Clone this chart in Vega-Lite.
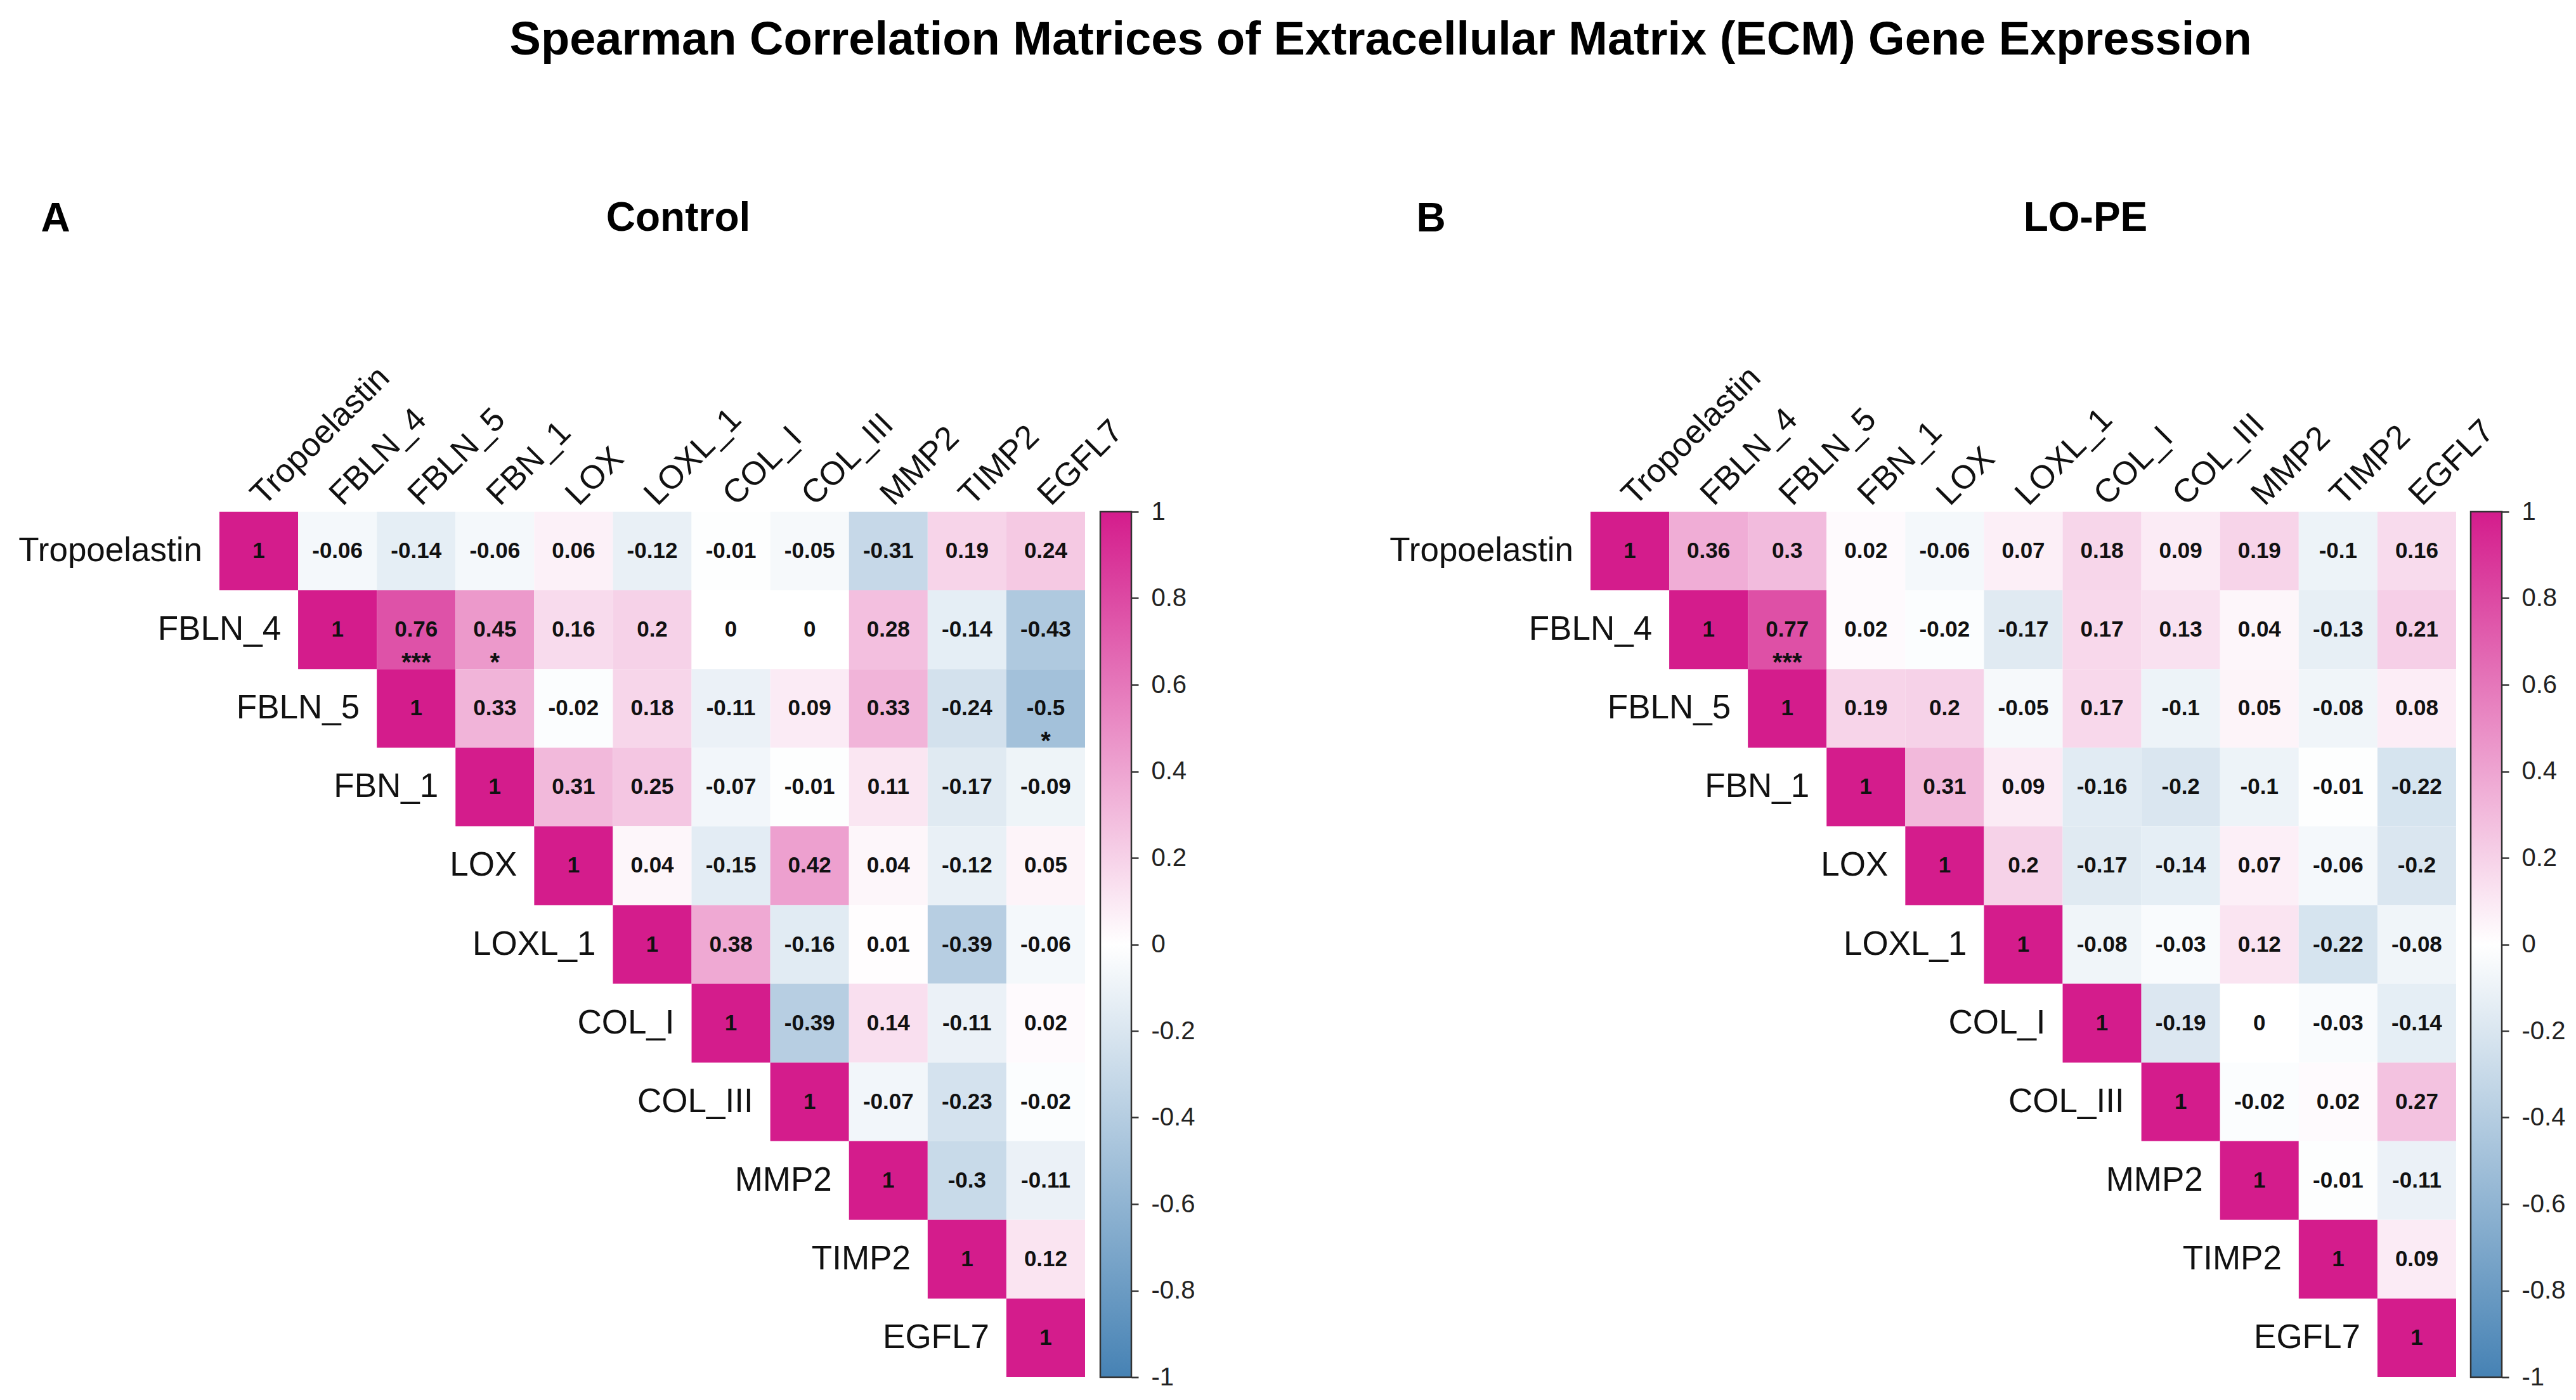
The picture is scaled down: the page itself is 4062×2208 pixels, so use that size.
{
  "$schema": "https://vega.github.io/schema/vega-lite/v6.json",
  "background": "white",
  "padding": {"left": 29, "top": 27, "right": 5, "bottom": 5},
  "title": {
    "text": "Spearman Correlation Matrices of Extracellular Matrix (ECM) Gene Expression",
    "fontSize": 74, "fontWeight": "bold", "font": "Liberation Sans", "color": "#000",
    "anchor": "middle", "offset": 210, "dx": 140
  },
  "datasets": {
    "control": [
      {"row": "Tropoelastin", "col": "Tropoelastin", "r": 1},
      {"row": "Tropoelastin", "col": "FBLN_4", "r": -0.06},
      {"row": "Tropoelastin", "col": "FBLN_5", "r": -0.14},
      {"row": "Tropoelastin", "col": "FBN_1", "r": -0.06},
      {"row": "Tropoelastin", "col": "LOX", "r": 0.06},
      {"row": "Tropoelastin", "col": "LOXL_1", "r": -0.12},
      {"row": "Tropoelastin", "col": "COL_I", "r": -0.01},
      {"row": "Tropoelastin", "col": "COL_III", "r": -0.05},
      {"row": "Tropoelastin", "col": "MMP2", "r": -0.31},
      {"row": "Tropoelastin", "col": "TIMP2", "r": 0.19},
      {"row": "Tropoelastin", "col": "EGFL7", "r": 0.24},
      {"row": "FBLN_4", "col": "FBLN_4", "r": 1},
      {"row": "FBLN_4", "col": "FBLN_5", "r": 0.76, "sig": "***"},
      {"row": "FBLN_4", "col": "FBN_1", "r": 0.45, "sig": "*"},
      {"row": "FBLN_4", "col": "LOX", "r": 0.16},
      {"row": "FBLN_4", "col": "LOXL_1", "r": 0.2},
      {"row": "FBLN_4", "col": "COL_I", "r": 0},
      {"row": "FBLN_4", "col": "COL_III", "r": 0},
      {"row": "FBLN_4", "col": "MMP2", "r": 0.28},
      {"row": "FBLN_4", "col": "TIMP2", "r": -0.14},
      {"row": "FBLN_4", "col": "EGFL7", "r": -0.43},
      {"row": "FBLN_5", "col": "FBLN_5", "r": 1},
      {"row": "FBLN_5", "col": "FBN_1", "r": 0.33},
      {"row": "FBLN_5", "col": "LOX", "r": -0.02},
      {"row": "FBLN_5", "col": "LOXL_1", "r": 0.18},
      {"row": "FBLN_5", "col": "COL_I", "r": -0.11},
      {"row": "FBLN_5", "col": "COL_III", "r": 0.09},
      {"row": "FBLN_5", "col": "MMP2", "r": 0.33},
      {"row": "FBLN_5", "col": "TIMP2", "r": -0.24},
      {"row": "FBLN_5", "col": "EGFL7", "r": -0.5, "sig": "*"},
      {"row": "FBN_1", "col": "FBN_1", "r": 1},
      {"row": "FBN_1", "col": "LOX", "r": 0.31},
      {"row": "FBN_1", "col": "LOXL_1", "r": 0.25},
      {"row": "FBN_1", "col": "COL_I", "r": -0.07},
      {"row": "FBN_1", "col": "COL_III", "r": -0.01},
      {"row": "FBN_1", "col": "MMP2", "r": 0.11},
      {"row": "FBN_1", "col": "TIMP2", "r": -0.17},
      {"row": "FBN_1", "col": "EGFL7", "r": -0.09},
      {"row": "LOX", "col": "LOX", "r": 1},
      {"row": "LOX", "col": "LOXL_1", "r": 0.04},
      {"row": "LOX", "col": "COL_I", "r": -0.15},
      {"row": "LOX", "col": "COL_III", "r": 0.42},
      {"row": "LOX", "col": "MMP2", "r": 0.04},
      {"row": "LOX", "col": "TIMP2", "r": -0.12},
      {"row": "LOX", "col": "EGFL7", "r": 0.05},
      {"row": "LOXL_1", "col": "LOXL_1", "r": 1},
      {"row": "LOXL_1", "col": "COL_I", "r": 0.38},
      {"row": "LOXL_1", "col": "COL_III", "r": -0.16},
      {"row": "LOXL_1", "col": "MMP2", "r": 0.01},
      {"row": "LOXL_1", "col": "TIMP2", "r": -0.39},
      {"row": "LOXL_1", "col": "EGFL7", "r": -0.06},
      {"row": "COL_I", "col": "COL_I", "r": 1},
      {"row": "COL_I", "col": "COL_III", "r": -0.39},
      {"row": "COL_I", "col": "MMP2", "r": 0.14},
      {"row": "COL_I", "col": "TIMP2", "r": -0.11},
      {"row": "COL_I", "col": "EGFL7", "r": 0.02},
      {"row": "COL_III", "col": "COL_III", "r": 1},
      {"row": "COL_III", "col": "MMP2", "r": -0.07},
      {"row": "COL_III", "col": "TIMP2", "r": -0.23},
      {"row": "COL_III", "col": "EGFL7", "r": -0.02},
      {"row": "MMP2", "col": "MMP2", "r": 1},
      {"row": "MMP2", "col": "TIMP2", "r": -0.3},
      {"row": "MMP2", "col": "EGFL7", "r": -0.11},
      {"row": "TIMP2", "col": "TIMP2", "r": 1},
      {"row": "TIMP2", "col": "EGFL7", "r": 0.12},
      {"row": "EGFL7", "col": "EGFL7", "r": 1}
    ],
    "lope": [
      {"row": "Tropoelastin", "col": "Tropoelastin", "r": 1},
      {"row": "Tropoelastin", "col": "FBLN_4", "r": 0.36},
      {"row": "Tropoelastin", "col": "FBLN_5", "r": 0.3},
      {"row": "Tropoelastin", "col": "FBN_1", "r": 0.02},
      {"row": "Tropoelastin", "col": "LOX", "r": -0.06},
      {"row": "Tropoelastin", "col": "LOXL_1", "r": 0.07},
      {"row": "Tropoelastin", "col": "COL_I", "r": 0.18},
      {"row": "Tropoelastin", "col": "COL_III", "r": 0.09},
      {"row": "Tropoelastin", "col": "MMP2", "r": 0.19},
      {"row": "Tropoelastin", "col": "TIMP2", "r": -0.1},
      {"row": "Tropoelastin", "col": "EGFL7", "r": 0.16},
      {"row": "FBLN_4", "col": "FBLN_4", "r": 1},
      {"row": "FBLN_4", "col": "FBLN_5", "r": 0.77, "sig": "***"},
      {"row": "FBLN_4", "col": "FBN_1", "r": 0.02},
      {"row": "FBLN_4", "col": "LOX", "r": -0.02},
      {"row": "FBLN_4", "col": "LOXL_1", "r": -0.17},
      {"row": "FBLN_4", "col": "COL_I", "r": 0.17},
      {"row": "FBLN_4", "col": "COL_III", "r": 0.13},
      {"row": "FBLN_4", "col": "MMP2", "r": 0.04},
      {"row": "FBLN_4", "col": "TIMP2", "r": -0.13},
      {"row": "FBLN_4", "col": "EGFL7", "r": 0.21},
      {"row": "FBLN_5", "col": "FBLN_5", "r": 1},
      {"row": "FBLN_5", "col": "FBN_1", "r": 0.19},
      {"row": "FBLN_5", "col": "LOX", "r": 0.2},
      {"row": "FBLN_5", "col": "LOXL_1", "r": -0.05},
      {"row": "FBLN_5", "col": "COL_I", "r": 0.17},
      {"row": "FBLN_5", "col": "COL_III", "r": -0.1},
      {"row": "FBLN_5", "col": "MMP2", "r": 0.05},
      {"row": "FBLN_5", "col": "TIMP2", "r": -0.08},
      {"row": "FBLN_5", "col": "EGFL7", "r": 0.08},
      {"row": "FBN_1", "col": "FBN_1", "r": 1},
      {"row": "FBN_1", "col": "LOX", "r": 0.31},
      {"row": "FBN_1", "col": "LOXL_1", "r": 0.09},
      {"row": "FBN_1", "col": "COL_I", "r": -0.16},
      {"row": "FBN_1", "col": "COL_III", "r": -0.2},
      {"row": "FBN_1", "col": "MMP2", "r": -0.1},
      {"row": "FBN_1", "col": "TIMP2", "r": -0.01},
      {"row": "FBN_1", "col": "EGFL7", "r": -0.22},
      {"row": "LOX", "col": "LOX", "r": 1},
      {"row": "LOX", "col": "LOXL_1", "r": 0.2},
      {"row": "LOX", "col": "COL_I", "r": -0.17},
      {"row": "LOX", "col": "COL_III", "r": -0.14},
      {"row": "LOX", "col": "MMP2", "r": 0.07},
      {"row": "LOX", "col": "TIMP2", "r": -0.06},
      {"row": "LOX", "col": "EGFL7", "r": -0.2},
      {"row": "LOXL_1", "col": "LOXL_1", "r": 1},
      {"row": "LOXL_1", "col": "COL_I", "r": -0.08},
      {"row": "LOXL_1", "col": "COL_III", "r": -0.03},
      {"row": "LOXL_1", "col": "MMP2", "r": 0.12},
      {"row": "LOXL_1", "col": "TIMP2", "r": -0.22},
      {"row": "LOXL_1", "col": "EGFL7", "r": -0.08},
      {"row": "COL_I", "col": "COL_I", "r": 1},
      {"row": "COL_I", "col": "COL_III", "r": -0.19},
      {"row": "COL_I", "col": "MMP2", "r": 0},
      {"row": "COL_I", "col": "TIMP2", "r": -0.03},
      {"row": "COL_I", "col": "EGFL7", "r": -0.14},
      {"row": "COL_III", "col": "COL_III", "r": 1},
      {"row": "COL_III", "col": "MMP2", "r": -0.02},
      {"row": "COL_III", "col": "TIMP2", "r": 0.02},
      {"row": "COL_III", "col": "EGFL7", "r": 0.27},
      {"row": "MMP2", "col": "MMP2", "r": 1},
      {"row": "MMP2", "col": "TIMP2", "r": -0.01},
      {"row": "MMP2", "col": "EGFL7", "r": -0.11},
      {"row": "TIMP2", "col": "TIMP2", "r": 1},
      {"row": "TIMP2", "col": "EGFL7", "r": 0.09},
      {"row": "EGFL7", "col": "EGFL7", "r": 1}
    ],
    "colorbar": [{"lo": -1, "hi": 1}]
  },
  "spacing": 307,
  "bounds": "full",
  "hconcat": [
    {
      "spacing": 24,
      "bounds": "flush",
      "hconcat": [
        {
          "width": 1365, "height": 1365,
          "data": {"name": "control"},
          "encoding": {
            "x": {
              "field": "col", "type": "nominal", "sort": null,
              "scale": {"domain": ["Tropoelastin", "FBLN_4", "FBLN_5", "FBN_1", "LOX", "LOXL_1", "COL_I", "COL_III", "MMP2", "TIMP2", "EGFL7"], "paddingInner": 0, "paddingOuter": 0},
              "axis": {
                "orient": "top", "domain": false, "ticks": false, "tickSize": 0,
                "labelAngle": -45, "labelAlign": "left", "labelBaseline": "alphabetic",
                "labelPadding": 8, "labelOffset": 8, "labelFontSize": 52, "labelColor": "#111",
                "labelLimit": 0, "labelOverlap": false, "labelBound": false, "labelFlush": false,
                "title": "A", "titleX": -259, "titleY": -443, "titleAngle": 0,
                "titleAlign": "center", "titleBaseline": "alphabetic",
                "titleFontSize": 64, "titleFontWeight": "bold", "titleColor": "#000"
              }
            },
            "y": {
              "field": "row", "type": "nominal", "sort": null,
              "scale": {"domain": ["Tropoelastin", "FBLN_4", "FBLN_5", "FBN_1", "LOX", "LOXL_1", "COL_I", "COL_III", "MMP2", "TIMP2", "EGFL7"], "paddingInner": 0, "paddingOuter": 0},
              "axis": {
                "orient": "left", "domain": false, "ticks": false, "labels": false,
                "title": "Control", "titleX": 723, "titleY": -444, "titleAngle": 0,
                "titleAlign": "center", "titleBaseline": "alphabetic",
                "titleFontSize": 64, "titleFontWeight": "bold", "titleColor": "#000"
              }
            }
          },
          "layer": [
            {
              "mark": {"type": "rect"},
              "encoding": {
                "color": {
                  "field": "r", "type": "quantitative",
                  "scale": {"domain": [-1, 0, 1], "range": ["#4682B4", "#FFFFFF", "#D41C8C"], "interpolate": "rgb"},
                  "legend": null
                }
              }
            },
            {
              "mark": {"type": "text", "fontSize": 35, "fontWeight": "bold", "color": "#111", "baseline": "middle"},
              "encoding": {"text": {"field": "r", "type": "nominal"}}
            },
            {
              "transform": [{"filter": "datum.sig"}],
              "mark": {"type": "text", "fontSize": 40, "fontWeight": "bold", "color": "#111", "baseline": "alphabetic", "dy": 65},
              "encoding": {"text": {"field": "sig", "type": "nominal"}}
            },
            {
              "transform": [{"filter": "datum.row === datum.col"}],
              "mark": {"type": "text", "fontSize": 53, "color": "#111", "align": "right", "baseline": "middle", "dx": -89},
              "encoding": {"text": {"field": "row", "type": "nominal"}}
            }
          ]
        },
        {
          "width": 49, "height": 1365,
          "data": {"name": "colorbar"},
          "mark": {
            "type": "rect", "stroke": "#333", "strokeWidth": 2.5,
            "fill": {"gradient": "linear", "x1": 0, "y1": 0, "x2": 0, "y2": 1,
              "stops": [{"offset": 0, "color": "#D41C8C"}, {"offset": 0.5, "color": "#FFFFFF"}, {"offset": 1, "color": "#4682B4"}]}
          },
          "encoding": {
            "y": {
              "field": "lo", "type": "quantitative",
              "scale": {"domain": [-1, 1], "nice": false, "zero": false},
              "axis": {
                "orient": "right", "values": [-1, -0.8, -0.6, -0.4, -0.2, 0, 0.2, 0.4, 0.6, 0.8, 1],
                "labelExpr": "'' + datum.value", "domain": false, "grid": false, "title": null,
                "tickSize": 11, "tickWidth": 2.5, "tickColor": "#333",
                "labelPadding": 20, "labelFontSize": 40, "labelColor": "#222",
                "labelAlign": "left", "labelBaseline": "middle",
                "labelFlush": false, "labelOverlap": false, "labelBound": false
              }
            },
            "y2": {"field": "hi"}
          }
        }
      ]
    },
    {
      "spacing": 23,
      "bounds": "flush",
      "hconcat": [
        {
          "width": 1365, "height": 1365,
          "data": {"name": "lope"},
          "encoding": {
            "x": {
              "field": "col", "type": "nominal", "sort": null,
              "scale": {"domain": ["Tropoelastin", "FBLN_4", "FBLN_5", "FBN_1", "LOX", "LOXL_1", "COL_I", "COL_III", "MMP2", "TIMP2", "EGFL7"], "paddingInner": 0, "paddingOuter": 0},
              "axis": {
                "orient": "top", "domain": false, "ticks": false, "tickSize": 0,
                "labelAngle": -45, "labelAlign": "left", "labelBaseline": "alphabetic",
                "labelPadding": 8, "labelOffset": 8, "labelFontSize": 52, "labelColor": "#111",
                "labelLimit": 0, "labelOverlap": false, "labelBound": false, "labelFlush": false,
                "title": "B", "titleX": -252, "titleY": -443, "titleAngle": 0,
                "titleAlign": "center", "titleBaseline": "alphabetic",
                "titleFontSize": 64, "titleFontWeight": "bold", "titleColor": "#000"
              }
            },
            "y": {
              "field": "row", "type": "nominal", "sort": null,
              "scale": {"domain": ["Tropoelastin", "FBLN_4", "FBLN_5", "FBN_1", "LOX", "LOXL_1", "COL_I", "COL_III", "MMP2", "TIMP2", "EGFL7"], "paddingInner": 0, "paddingOuter": 0},
              "axis": {
                "orient": "left", "domain": false, "ticks": false, "labels": false,
                "title": "LO-PE", "titleX": 780, "titleY": -444, "titleAngle": 0,
                "titleAlign": "center", "titleBaseline": "alphabetic",
                "titleFontSize": 64, "titleFontWeight": "bold", "titleColor": "#000"
              }
            }
          },
          "layer": [
            {
              "mark": {"type": "rect"},
              "encoding": {
                "color": {
                  "field": "r", "type": "quantitative",
                  "scale": {"domain": [-1, 0, 1], "range": ["#4682B4", "#FFFFFF", "#D41C8C"], "interpolate": "rgb"},
                  "legend": null
                }
              }
            },
            {
              "mark": {"type": "text", "fontSize": 35, "fontWeight": "bold", "color": "#111", "baseline": "middle"},
              "encoding": {"text": {"field": "r", "type": "nominal"}}
            },
            {
              "transform": [{"filter": "datum.sig"}],
              "mark": {"type": "text", "fontSize": 40, "fontWeight": "bold", "color": "#111", "baseline": "alphabetic", "dy": 65},
              "encoding": {"text": {"field": "sig", "type": "nominal"}}
            },
            {
              "transform": [{"filter": "datum.row === datum.col"}],
              "mark": {"type": "text", "fontSize": 53, "color": "#111", "align": "right", "baseline": "middle", "dx": -89},
              "encoding": {"text": {"field": "row", "type": "nominal"}}
            }
          ]
        },
        {
          "width": 49, "height": 1365,
          "data": {"name": "colorbar"},
          "mark": {
            "type": "rect", "stroke": "#333", "strokeWidth": 2.5,
            "fill": {"gradient": "linear", "x1": 0, "y1": 0, "x2": 0, "y2": 1,
              "stops": [{"offset": 0, "color": "#D41C8C"}, {"offset": 0.5, "color": "#FFFFFF"}, {"offset": 1, "color": "#4682B4"}]}
          },
          "encoding": {
            "y": {
              "field": "lo", "type": "quantitative",
              "scale": {"domain": [-1, 1], "nice": false, "zero": false},
              "axis": {
                "orient": "right", "values": [-1, -0.8, -0.6, -0.4, -0.2, 0, 0.2, 0.4, 0.6, 0.8, 1],
                "labelExpr": "'' + datum.value", "domain": false, "grid": false, "title": null,
                "tickSize": 11, "tickWidth": 2.5, "tickColor": "#333",
                "labelPadding": 20, "labelFontSize": 40, "labelColor": "#222",
                "labelAlign": "left", "labelBaseline": "middle",
                "labelFlush": false, "labelOverlap": false, "labelBound": false
              }
            },
            "y2": {"field": "hi"}
          }
        }
      ]
    }
  ],
  "resolve": {"scale": {"color": "independent", "x": "independent", "y": "independent"}},
  "config": {
    "view": {"stroke": null},
    "font": "Liberation Sans",
    "axis": {"labelFont": "Liberation Sans", "titleFont": "Liberation Sans"},
    "text": {"font": "Liberation Sans"}
  }
}
